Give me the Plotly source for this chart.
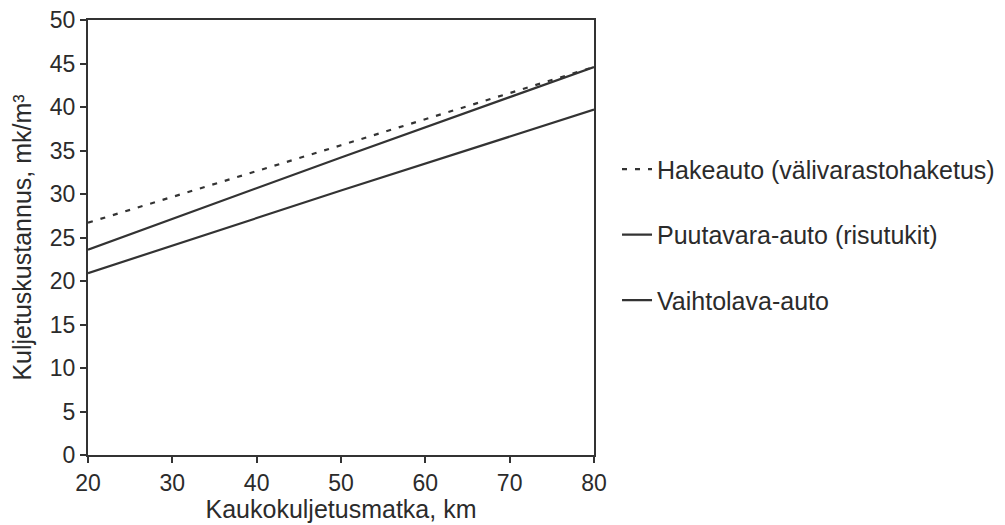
import plotly.graph_objects as go

distance_km = [20, 50, 80]
hakeauto = [26.7, 35.6, 44.6]
puutavara = [23.6, 34.2, 44.6]
vaihtolava = [20.9, 30.4, 39.7]

series = [
    ("Hakeauto (välivarastohaketus)", hakeauto, "5px,8px"),
    ("Puutavara-auto (risutukit)", puutavara, "solid"),
    ("Vaihtolava-auto", vaihtolava, "solid"),
]

fig = go.Figure()
for i, (name, vals, dash) in enumerate(series):
    fig.add_trace(go.Scatter(
        x=distance_km, y=vals, mode="lines", name=name,
        legendgroup=str(i),
        line=dict(color="#333333", width=2.2, dash=dash),
    ))

font = "Liberation Sans, Arial, sans-serif"
txt = "#2b2b2b"
fig.update_layout(
    width=995, height=515,
    margin=dict(l=80, r=409, t=12, b=68, autoexpand=False),
    paper_bgcolor="white", plot_bgcolor="white",
    font=dict(family=font, size=23, color=txt),
    showlegend=True,
    legend=dict(
        x=1.0455, y=0.506, xanchor="left", yanchor="middle",
        font=dict(family=font, size=25, color=txt),
        traceorder="grouped", tracegroupgap=30,
        itemwidth=30, bgcolor="rgba(0,0,0,0)",
    ),
    xaxis=dict(
        range=[20, 80], tickvals=[20, 30, 40, 50, 60, 70, 80],
        showgrid=False, zeroline=False, automargin=False,
        showline=True, linecolor="#333333", linewidth=2, mirror=True,
        ticks="outside", ticklen=6, tickwidth=1.5, tickcolor="#333333",
        ticklabeloverflow="allow",
        tickfont=dict(family=font, size=23, color=txt),
        title=dict(text="Kaukokuljetusmatka, km", standoff=3,
                   font=dict(family=font, size=25, color=txt)),
    ),
    yaxis=dict(
        range=[0, 50], tickvals=list(range(0, 51, 5)),
        showgrid=False, zeroline=False, automargin=False,
        showline=True, linecolor="#333333", linewidth=2, mirror=True,
        ticks="outside", ticklen=6, tickwidth=1.5, tickcolor="#333333",
        ticklabeloverflow="allow",
        tickfont=dict(family=font, size=23, color=txt),
        title=dict(text="Kuljetuskustannus, mk/m³", standoff=11,
                   font=dict(family=font, size=25, color=txt)),
    ),
)

fig.write_html("out.html")
